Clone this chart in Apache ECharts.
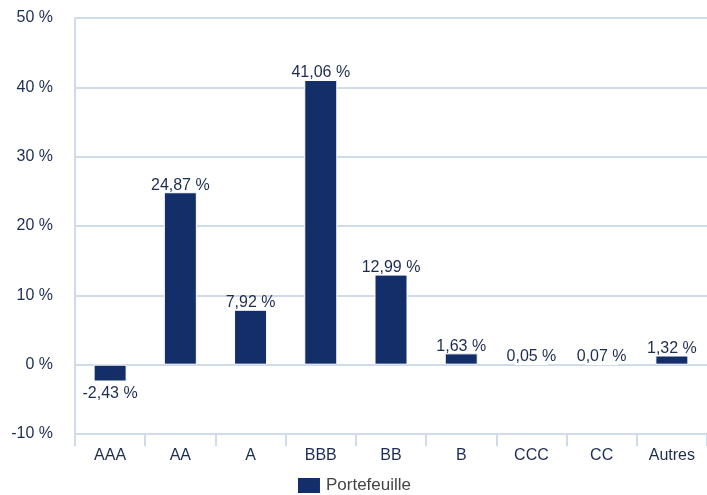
<!DOCTYPE html>
<html><head><meta charset="utf-8">
<script src="https://cdn.jsdelivr.net/npm/echarts@6/dist/echarts.min.js"></script>
<style>html,body{margin:0;padding:0;background:#fff}#c{width:707px;height:495px}</style>
</head><body><div id="c"></div>
<script>
const categories = ['AAA','AA','A','BBB','BB','B','CCC','CC','Autres'];
const portefeuille = [-2.43, 24.87, 7.92, 41.06, 12.99, 1.63, 0.05, 0.07, 1.32];
const seriesName = 'Portefeuille';
const fmt = v => v.toFixed(2).replace('.', ',') + ' %';
const chart = echarts.init(document.getElementById('c'));
chart.setOption({
  animation: false,
  textStyle: { fontFamily: 'Liberation Sans, Arial, sans-serif' },
  grid: { left: 75, right: 0, top: 18, bottom: 61, containLabel: false },
  legend: {
    bottom: 0, left: 'center', itemWidth: 24, itemHeight: 17, itemGap: 8, padding: 0,
    textStyle: { color: '#444', fontSize: 17, fontFamily: 'Liberation Sans, Arial, sans-serif' },
    icon: 'rect'
  },
  xAxis: {
    type: 'category', data: categories,
    axisLine: { onZero: false, lineStyle: { color: '#cfdbe8', width: 2 } },
    axisTick: { show: true, length: 12, lineStyle: { color: '#cfdbe8', width: 2 } },
    axisLabel: { color: '#1d2d50', fontSize: 16, margin: 14 }
  },
  yAxis: {
    type: 'value', min: -10, max: 50, interval: 10,
    axisLine: { show: true, lineStyle: { color: '#cfdbe8', width: 2 } },
    axisTick: { show: false },
    splitLine: { lineStyle: { color: '#cfdbe8', width: 2 } },
    axisLabel: { color: '#1d2d50', fontSize: 16, margin: 22, formatter: v => v + ' %' }
  },
  series: [{
    name: seriesName, type: 'bar', barWidth: 33,
    data: portefeuille.map(v => v < 0 ? { value: v, label: { position: 'bottom', distance: 4 } } : v),
    itemStyle: { color: '#132e69', borderColor: '#ffffff', borderWidth: 1 },
    label: {
      show: true, position: 'top', distance: -1, color: '#1d2d50', fontSize: 16,
      formatter: p => fmt(p.value)
    }
  }]
});
</script></body></html>
